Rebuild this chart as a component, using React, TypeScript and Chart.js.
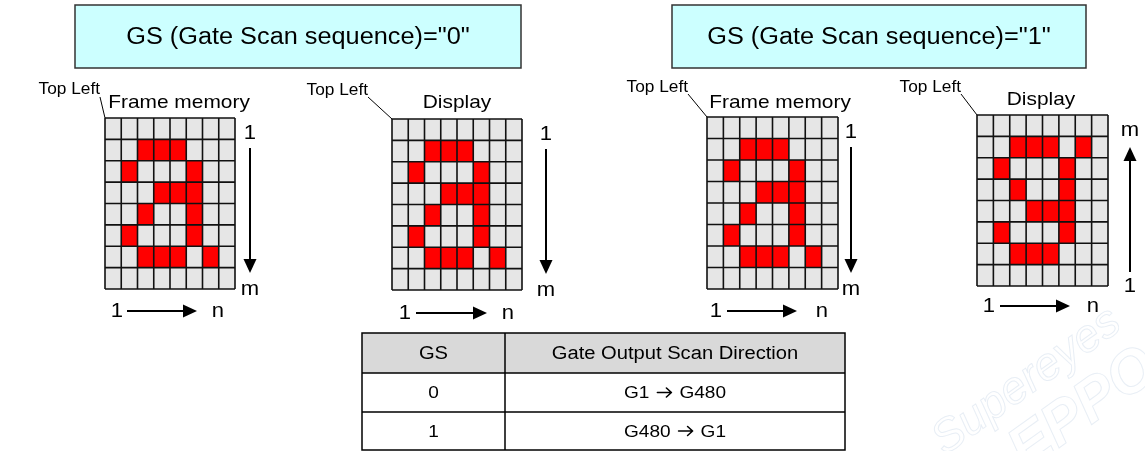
import React, { useEffect, useRef } from "react";
import { Chart, registerables } from "chart.js";

Chart.register(...registerables);

const CANVAS_W = 1145;
const CANVAS_H = 451;

// ---------- data ----------
const gsTitles = ['GS (Gate Scan sequence)="0"', 'GS (Gate Scan sequence)="1"'];
const panelTitles = ["Frame memory", "Display", "Frame memory", "Display"];
const topLeftLabel = "Top Left";

// 1 = red (lit) pixel, 0 = grey pixel; rows top -> bottom
const frameMemoryGS0 = ["00000000", "00111000", "01000100", "00011100", "00100100", "01000100", "00111010", "00000000"];
const displayGS0 = ["00000000", "00111000", "01000100", "00011100", "00100100", "01000100", "00111010", "00000000"];
const frameMemoryGS1 = ["00000000", "00111000", "01000100", "00011100", "00100100", "01000100", "00111010", "00000000"];
const displayGS1 = ["00000000", "00111010", "01000100", "00100100", "00011100", "01000100", "00111000", "00000000"];

const rowAxisStart = ["1", "1", "1", "m"];
const rowAxisEnd = ["m", "m", "m", "1"];
const colAxisStart = "1";
const colAxisEnd = "n";

const tableHeader = ["GS", "Gate Output Scan Direction"];
const tableGS = ["0", "1"];
const tableDirectionFrom = ["G1", "G480"];
const tableDirectionTo = ["G480", "G1"];

// ---------- layout (positions in data units = canvas px) ----------
const titleBoxes = [
  { x0: 75, y0: 5, x1: 521, y1: 68 },
  { x0: 672, y0: 5, x1: 1086, y1: 68 },
];
const panels = [
  { pattern: frameMemoryGS0, x0: 105, y0: 118, x1: 235, y1: 289, titleX: 179, titleY: 103, tl: { x: 100, y: 90, lx: 100, ly: 97 }, vx: 250, h: { one: 117, a0: 127, a1: 197, n: 218, y: 311 } },
  { pattern: displayGS0, x0: 392, y0: 119, x1: 522, y1: 290, titleX: 457, titleY: 103, tl: { x: 368, y: 91, lx: 368, ly: 97 }, vx: 546, h: { one: 405, a0: 416, a1: 487, n: 508, y: 313 } },
  { pattern: frameMemoryGS1, x0: 707, y0: 117, x1: 838, y1: 289, titleX: 780, titleY: 103, tl: { x: 688, y: 88, lx: 688, ly: 94 }, vx: 851, h: { one: 716, a0: 727, a1: 797, n: 822, y: 311 } },
  { pattern: displayGS1, x0: 977, y0: 115, x1: 1108, y1: 286, titleX: 1041, titleY: 100, tl: { x: 961, y: 88, lx: 961, ly: 94 }, vx: 1130, h: { one: 989, a0: 1000, a1: 1070, n: 1093, y: 306 } },
];
const table = { x0: 362, x1: 845, xDiv: 505, rows: [333, 373, 412, 450] };

const FONT = '"Liberation Sans", Arial, Helvetica, sans-serif';

function drawText(ctx: CanvasRenderingContext2D, s: string, x: number, y: number, size: number, align: CanvasTextAlign, sx = 1.12) {
  ctx.save();
  ctx.font = `${size}px ${FONT}`;
  ctx.fillStyle = "#000";
  ctx.textBaseline = "middle";
  ctx.textAlign = align;
  ctx.translate(x, y);
  ctx.scale(sx, 1);
  ctx.fillText(s, 0, 0);
  ctx.restore();
}

function measure(ctx: CanvasRenderingContext2D, s: string, size: number, sx: number) {
  ctx.save();
  ctx.font = `${size}px ${FONT}`;
  const w = ctx.measureText(s).width * sx;
  ctx.restore();
  return w;
}

function arrow(ctx: CanvasRenderingContext2D, x0: number, y0: number, x1: number, y1: number) {
  const ang = Math.atan2(y1 - y0, x1 - x0);
  const hl = 14, hw = 6.5;
  const bx = x1 - hl * Math.cos(ang), by = y1 - hl * Math.sin(ang);
  ctx.save();
  ctx.strokeStyle = "#000";
  ctx.fillStyle = "#000";
  ctx.lineWidth = 2;
  ctx.beginPath();
  ctx.moveTo(x0, y0);
  ctx.lineTo(bx, by);
  ctx.stroke();
  ctx.beginPath();
  ctx.moveTo(x1, y1);
  ctx.lineTo(bx + hw * Math.sin(ang), by - hw * Math.cos(ang));
  ctx.lineTo(bx - hw * Math.sin(ang), by + hw * Math.cos(ang));
  ctx.closePath();
  ctx.fill();
  ctx.restore();
}

// small text-style arrow (like the Wingdings "→" in the table)
function textArrow(ctx: CanvasRenderingContext2D, x: number, y: number, w: number) {
  ctx.save();
  ctx.strokeStyle = "#000";
  ctx.lineWidth = 1.6;
  ctx.lineCap = "round";
  ctx.lineJoin = "round";
  ctx.beginPath();
  ctx.moveTo(x, y);
  ctx.lineTo(x + w, y);
  ctx.moveTo(x + w - 5, y - 4.5);
  ctx.lineTo(x + w, y);
  ctx.lineTo(x + w - 5, y + 4.5);
  ctx.stroke();
  ctx.restore();
}

const diagramPlugin = {
  id: "gsDiagram",
  beforeDraw(chart: any) {
    const ctx = chart.ctx as CanvasRenderingContext2D;
    ctx.save();
    ctx.fillStyle = "#ffffff";
    ctx.fillRect(0, 0, chart.width, chart.height);
    ctx.restore();
  },
  afterDraw(chart: any) {
    const ctx = chart.ctx as CanvasRenderingContext2D;
    const X = (v: number) => chart.scales.x.getPixelForValue(v);
    const Y = (v: number) => chart.scales.y.getPixelForValue(v);

    // faint watermark
    ctx.save();
    ctx.translate(X(1040), Y(400));
    ctx.rotate(-0.62);
    ctx.font = `italic 46px ${FONT}`;
    ctx.strokeStyle = "rgba(190,205,225,0.35)";
    ctx.lineWidth = 1;
    ctx.textAlign = "center";
    ctx.strokeText("Supereyes", 0, -10);
    ctx.font = `italic bold 60px ${FONT}`;
    ctx.strokeText("EPPO", 30, 50);
    ctx.restore();

    // title boxes
    titleBoxes.forEach((b, i) => {
      ctx.save();
      ctx.fillStyle = "#ccffff";
      ctx.strokeStyle = "#333";
      ctx.lineWidth = 1.5;
      ctx.fillRect(X(b.x0), Y(b.y0), X(b.x1) - X(b.x0), Y(b.y1) - Y(b.y0));
      ctx.strokeRect(X(b.x0), Y(b.y0), X(b.x1) - X(b.x0), Y(b.y1) - Y(b.y0));
      ctx.restore();
      drawText(ctx, gsTitles[i], (X(b.x0) + X(b.x1)) / 2, (Y(b.y0) + Y(b.y1)) / 2 + 1, 23, "center", 1.1);
    });

    // panels
    panels.forEach((p, i) => {
      const rows = p.pattern.length;
      const cols = p.pattern[0].length;
      const cw = (X(p.x1) - X(p.x0)) / cols;
      const ch = (Y(p.y1) - Y(p.y0)) / rows;
      for (let r = 0; r < rows; r++) {
        for (let c = 0; c < cols; c++) {
          ctx.fillStyle = p.pattern[r][c] === "1" ? "#ff0000" : "#e6e6e6";
          ctx.fillRect(X(p.x0) + c * cw, Y(p.y0) + r * ch, cw, ch);
        }
      }
      ctx.save();
      ctx.strokeStyle = "#111";
      ctx.lineWidth = 1.6;
      ctx.beginPath();
      for (let c = 0; c <= cols; c++) {
        const x = X(p.x0) + c * cw;
        ctx.moveTo(x, Y(p.y0));
        ctx.lineTo(x, Y(p.y1));
      }
      for (let r = 0; r <= rows; r++) {
        const y = Y(p.y0) + r * ch;
        ctx.moveTo(X(p.x0), y);
        ctx.lineTo(X(p.x1), y);
      }
      ctx.stroke();
      ctx.restore();

      // panel title
      drawText(ctx, panelTitles[i], X(p.titleX), Y(p.titleY), 19, "center", 1.1);
      // Top Left label + leader
      drawText(ctx, topLeftLabel, X(p.tl.x), Y(p.tl.y), 16, "right", 1.08);
      ctx.save();
      ctx.strokeStyle = "#000";
      ctx.lineWidth = 1;
      ctx.beginPath();
      ctx.moveTo(X(p.tl.lx), Y(p.tl.ly));
      ctx.lineTo(X(p.x0), Y(p.y0));
      ctx.stroke();
      ctx.restore();

      // vertical axis
      const up = rowAxisStart[i] === "m";
      drawText(ctx, rowAxisStart[i], X(p.vx), Y(p.y0 + 15), 21, "center", 1.05);
      drawText(ctx, rowAxisEnd[i], X(p.vx), Y(p.y1), 21, "center", 1.05);
      if (up) arrow(ctx, X(p.vx), Y(p.y1 - 14), X(p.vx), Y(p.y0 + 32));
      else arrow(ctx, X(p.vx), Y(p.y0 + 30), X(p.vx), Y(p.y1 - 16));

      // horizontal axis
      drawText(ctx, colAxisStart, X(p.h.one), Y(p.h.y), 21, "center", 1.05);
      arrow(ctx, X(p.h.a0), Y(p.h.y), X(p.h.a1), Y(p.h.y));
      drawText(ctx, colAxisEnd, X(p.h.n), Y(p.h.y), 21, "center", 1.05);
    });

    // table
    const t = table;
    ctx.save();
    ctx.fillStyle = "#d9d9d9";
    ctx.fillRect(X(t.x0), Y(t.rows[0]), X(t.x1) - X(t.x0), Y(t.rows[1]) - Y(t.rows[0]));
    ctx.strokeStyle = "#000";
    ctx.lineWidth = 1.5;
    ctx.strokeRect(X(t.x0), Y(t.rows[0]), X(t.x1) - X(t.x0), Y(t.rows[3]) - Y(t.rows[0]));
    ctx.beginPath();
    ctx.moveTo(X(t.xDiv), Y(t.rows[0]));
    ctx.lineTo(X(t.xDiv), Y(t.rows[3]));
    ctx.moveTo(X(t.x0), Y(t.rows[1]));
    ctx.lineTo(X(t.x1), Y(t.rows[1]));
    ctx.moveTo(X(t.x0), Y(t.rows[2]));
    ctx.lineTo(X(t.x1), Y(t.rows[2]));
    ctx.stroke();
    ctx.restore();
    const c0 = (X(t.x0) + X(t.xDiv)) / 2;
    const c1 = (X(t.xDiv) + X(t.x1)) / 2;
    const rowMid = (k: number) => (Y(t.rows[k]) + Y(t.rows[k + 1])) / 2 + 1;
    const ts = 18, tsx = 1.12;
    drawText(ctx, tableHeader[0], c0, rowMid(0), ts, "center", tsx);
    drawText(ctx, tableHeader[1], c1, rowMid(0), ts, "center", tsx);
    tableGS.forEach((g, k) => {
      const y = rowMid(k + 1);
      drawText(ctx, g, c0, y, 17, "center", tsx);
      const a = tableDirectionFrom[k];
      const b = tableDirectionTo[k];
      const gap = 8, wArr = 14;
      const wa = measure(ctx, a, 17, tsx);
      const wb = measure(ctx, b, 17, tsx);
      let x = c1 - (wa + gap + wArr + gap + wb) / 2;
      drawText(ctx, a, x, y, 17, "left", tsx);
      x += wa + gap;
      textArrow(ctx, x, y - 1, wArr);
      x += wArr + gap;
      drawText(ctx, b, x, y, 17, "left", tsx);
    });
  },
};

export default function App() {
  const ref = useRef<HTMLCanvasElement | null>(null);
  useEffect(() => {
    document.body.style.margin = "0";
    const canvas = ref.current;
    if (!canvas) return;
    const litCells: { x: number; y: number }[] = [];
    panels.forEach((p) => {
      const cw = (p.x1 - p.x0) / p.pattern[0].length;
      const ch = (p.y1 - p.y0) / p.pattern.length;
      p.pattern.forEach((row, r) =>
        row.split("").forEach((v, c) => {
          if (v === "1") litCells.push({ x: p.x0 + (c + 0.5) * cw, y: p.y0 + (r + 0.5) * ch });
        })
      );
    });
    const chart = new Chart(canvas, {
      type: "scatter",
      data: {
        datasets: [{ label: "lit pixels", data: litCells, pointRadius: 0, pointHoverRadius: 0 }],
      },
      options: {
        responsive: false,
        animation: false,
        events: [],
        layout: { padding: 0 },
        plugins: { legend: { display: false }, tooltip: { enabled: false } },
        scales: {
          x: { type: "linear", min: 0, max: CANVAS_W, display: false },
          y: { type: "linear", min: 0, max: CANVAS_H, reverse: true, display: false },
        },
      },
      plugins: [diagramPlugin],
    });
    return () => chart.destroy();
  }, []);
  return (
    <div style={{ width: CANVAS_W, height: CANVAS_H }}>
      <canvas ref={ref} width={CANVAS_W} height={CANVAS_H} style={{ display: "block" }} />
    </div>
  );
}
